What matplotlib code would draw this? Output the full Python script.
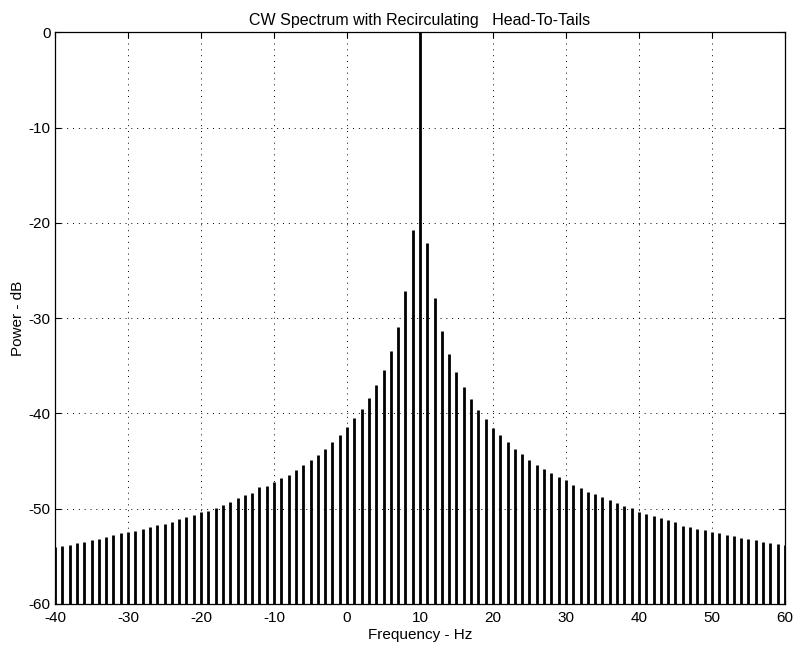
import numpy as np
import matplotlib
matplotlib.use('Agg')
import matplotlib.pyplot as plt

plt.rcParams['font.family'] = ['Liberation Sans', 'DejaVu Sans']
plt.rcParams['font.size'] = 11
plt.rcParams['axes.unicode_minus'] = False

# spectral lines, one per Hz
freqs = np.arange(-40, 61)
power_db = [
    -54.0, -53.9, -53.8, -53.6, -53.5, -53.3, -53.2, -53.0, -52.8, -52.6,   # -40 .. -31
    -52.4, -52.3, -52.1, -51.9, -51.7, -51.6, -51.4, -51.1, -50.9, -50.7,   # -30 .. -21
    -50.3, -50.2, -49.9, -49.6, -49.3, -48.9, -48.6, -48.4, -47.7, -47.6,   # -20 .. -11
    -47.2, -46.8, -46.5, -45.9, -45.4, -44.9, -44.4, -43.7, -43.0, -42.3,   # -10 .. -1
    -41.4, -40.5, -39.5, -38.4, -37.0, -35.4, -33.5, -30.9, -27.2, -20.8,   # 0 .. 9
    0.0,                                                                    # 10
    -22.1, -27.9, -31.3, -33.8, -35.7, -37.2, -38.5, -39.6, -40.6, -41.5,   # 11 .. 20
    -42.3, -43.0, -43.7, -44.3, -44.9, -45.4, -45.8, -46.3, -46.7, -47.0,   # 21 .. 30
    -47.5, -47.8, -48.2, -48.5, -48.8, -49.1, -49.4, -49.7, -49.9, -50.3,   # 31 .. 40
    -50.6, -50.8, -51.0, -51.2, -51.4, -51.8, -51.9, -52.1, -52.2, -52.4,   # 41 .. 50
    -52.6, -52.8, -52.9, -53.1, -53.2, -53.3, -53.5, -53.6, -53.7, -53.8,   # 51 .. 60
]
xticks = np.arange(-40, 61, 10)
yticks = np.arange(-60, 1, 10)

fig = plt.figure(figsize=(7.95, 6.51), dpi=100)
ax = fig.add_axes([0.0692, 0.0722, 0.9182, 0.8782])

ax.vlines(freqs, -60, power_db, colors='black', linewidth=2.0)

ax.set_xlim(-40, 60)
ax.set_ylim(-60, 0)
ax.set_xticks(xticks)
ax.set_yticks(yticks)
ax.grid(True, color='black', linestyle=(0, (1, 5)), linewidth=0.7)
ax.tick_params(direction='in', top=True, right=True, length=4, labelsize=11)
ax.tick_params(axis='x', pad=5)
ax.tick_params(axis='y', pad=3)
for s in ax.spines.values():
    s.set_linewidth(0.9)

ax.set_title('CW Spectrum with Recirculating   Head-To-Tails', fontsize=11.5, pad=5)
ax.set_xlabel('Frequency - Hz', fontsize=11, labelpad=2)
ax.set_ylabel('Power - dB', fontsize=11, labelpad=3)

fig.savefig('out.png', dpi=100)
